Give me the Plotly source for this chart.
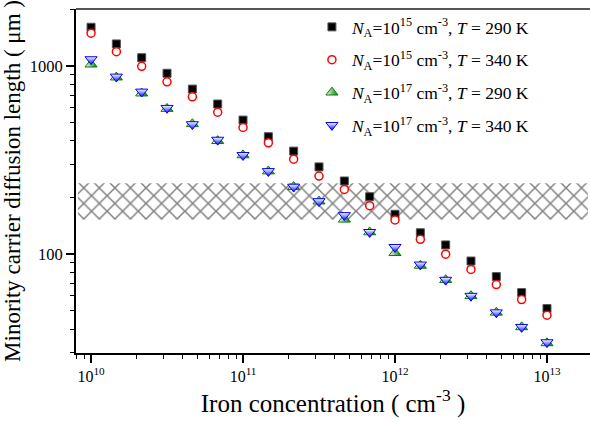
import plotly.graph_objects as go

# Iron concentration (cm^-3)
iron_conc = [1.0e10, 1.468e10, 2.154e10, 3.162e10, 4.642e10, 6.813e10,
             1.0e11, 1.468e11, 2.154e11, 3.162e11, 4.642e11, 6.813e11,
             1.0e12, 1.468e12, 2.154e12, 3.162e12, 4.642e12, 6.813e12, 1.0e13]

# Minority carrier diffusion length (um)
L_1e15_290 = [1607, 1310, 1107, 915, 754, 628, 516, 421, 353, 291, 245, 202,
              163, 130, 112, 92, 76, 62.5, 51.4]
L_1e15_340 = [1493, 1192, 996, 824, 686, 568, 472, 391, 320, 260, 221, 181,
              152, 120, 100, 83, 69, 57.4, 47.4]
L_1e17_290 = [1020, 871, 716, 593, 492, 400, 336, 276, 228, 191, 153, 131,
              101.6, 87, 73, 60, 49, 41, 33.7]
L_1e17_340 = [1085, 877, 730, 598, 490, 405, 336, 276, 228, 191, 161, 131,
              109, 88, 73, 60, 49, 41, 34]

legend_names = [
    "<i>N</i><sub>A</sub>=10<sup>15</sup> cm<sup>-3</sup>, <i>T</i> = 290 K",
    "<i>N</i><sub>A</sub>=10<sup>15</sup> cm<sup>-3</sup>, <i>T</i> = 340 K",
    "<i>N</i><sub>A</sub>=10<sup>17</sup> cm<sup>-3</sup>, <i>T</i> = 290 K",
    "<i>N</i><sub>A</sub>=10<sup>17</sup> cm<sup>-3</sup>, <i>T</i> = 340 K",
]

# hatched band (diffusion length range)
band_low = 153
band_high = 238
band_x = [8.2e9, 1.86e13]

x_tickvals = [1e10, 1e11, 1e12, 1e13]
x_ticktext = ["10<sup>10</sup>", "10<sup>11</sup>", "10<sup>12</sup>", "10<sup>13</sup>"]
y_tickvals = [100, 1000]
y_ticktext = ["100", "1000"]

FONT = "Liberation Serif"

fig = go.Figure()

fig.add_trace(go.Scatter(
    x=[band_x[0], band_x[1], band_x[1], band_x[0], band_x[0]],
    y=[band_low, band_low, band_high, band_high, band_low],
    mode="lines", fill="toself", fillcolor="white",
    line=dict(width=0, color="rgba(0,0,0,0)"),
    fillpattern=dict(shape="x", size=11, solidity=0.25, fgcolor="black", bgcolor="white"),
    showlegend=False, hoverinfo="skip",
))

fig.add_trace(go.Scatter(
    x=iron_conc, y=L_1e15_290, mode="markers", name=legend_names[0], legendgroup="a",
    marker=dict(symbol="square", size=8, color="black", line=dict(width=1, color="#555")),
))
fig.add_trace(go.Scatter(
    x=iron_conc, y=L_1e15_340, mode="markers", name=legend_names[1], legendgroup="b",
    marker=dict(symbol="circle", size=8, color="white", line=dict(width=1.5, color="red")),
))
fig.add_trace(go.Scatter(
    x=iron_conc, y=L_1e17_290, mode="markers", name=legend_names[2], legendgroup="c",
    marker=dict(symbol="triangle-up", size=10.5, color="white",
                gradient=dict(type="horizontal", color="green"),
                line=dict(width=1, color="green")),
))
fig.add_trace(go.Scatter(
    x=iron_conc, y=L_1e17_340, mode="markers", name=legend_names[3], legendgroup="d",
    marker=dict(symbol="triangle-down", size=10.5, color="white",
                gradient=dict(type="vertical", color="blue"),
                line=dict(width=1, color="blue")),
))

x_minor = [m * 10 ** e for e in range(9, 14) for m in range(2, 10)]
y_minor = [m * 10 ** e for e in range(1, 4) for m in range(2, 10)]

fig.update_layout(
    width=590, height=421,
    margin=dict(l=76, r=0, t=9, b=68),
    paper_bgcolor="white", plot_bgcolor="white",
    font=dict(family=FONT, color="black"),
    showlegend=True,
    legend=dict(x=0.459, y=1.0, xanchor="left", yanchor="top",
                font=dict(family=FONT, size=17.5, color="black"),
                bgcolor="rgba(0,0,0,0)", tracegroupgap=7, itemwidth=30),
    xaxis=dict(type="log", range=[9.901, 13.283],
               tickvals=x_tickvals, ticktext=x_ticktext,
               ticks="outside", ticklen=8, tickwidth=1.5, tickcolor="black",
               minor=dict(tickvals=x_minor, ticks="outside", ticklen=4, tickwidth=1, tickcolor="black", showgrid=False),
               showline=True, linewidth=2, linecolor="black",
               showgrid=False, zeroline=False,
               tickfont=dict(family=FONT, size=16),
               title=dict(text="Iron concentration ( cm<sup>-3</sup> )", font=dict(family=FONT, size=25), standoff=4)),
    yaxis=dict(type="log", range=[1.475, 3.303],
               tickvals=y_tickvals, ticktext=y_ticktext,
               ticks="outside", ticklen=8, tickwidth=1.5, tickcolor="black",
               minor=dict(tickvals=y_minor, ticks="outside", ticklen=4, tickwidth=1, tickcolor="black", showgrid=False),
               showline=True, linewidth=2, linecolor="black",
               showgrid=False, zeroline=False,
               tickfont=dict(family=FONT, size=16.5),
               title=dict(text="Minority carrier diffusion length ( μm )", font=dict(family=FONT, size=23), standoff=4)),
    shapes=[dict(type="line", xref="paper", yref="paper", x0=0, x1=1, y0=1, y1=1,
                 line=dict(color="#555", width=2))],
)

fig.write_html("out.html")
